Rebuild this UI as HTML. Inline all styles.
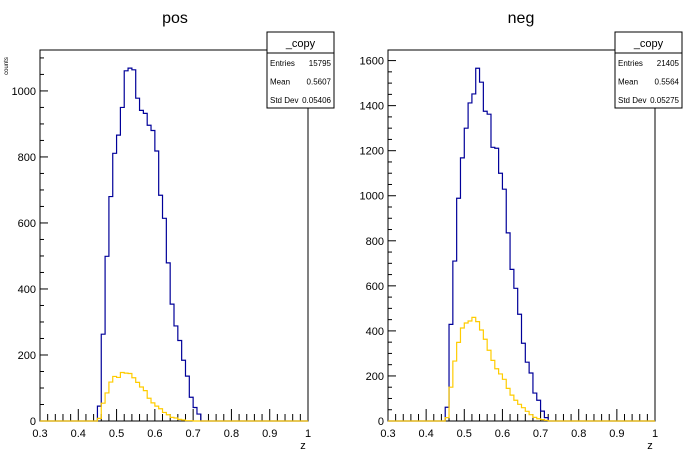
<!DOCTYPE html>
<html><head><meta charset="utf-8"><style>
body{margin:0;background:#fff;}
svg{display:block;font-family:"Liberation Sans",sans-serif;}
</style></head><body>
<svg id="c" width="696" height="472"></svg>
<script>
const binEdges0 = 0.45;
const binWidth = 0.01;
const posBlue = [45,263,499,680,811,866,950,1061,1069,1064,978,941,932,896,880,818,684,614,479,354,288,244,184,136,72,41,21];
const posYellow = [8,54,85,118,135,132,147,145,144,131,117,103,92,69,55,45,37,26,19,11,9,5,3,1,1,0,0];
const negBlue = [61,429,710,989,1168,1300,1412,1452,1566,1504,1375,1362,1215,1211,1100,1029,835,673,589,474,345,261,213,124,92,44,15];
const negYellow = [15,150,266,349,413,435,444,460,441,404,363,314,269,232,209,185,145,115,92,74,59,43,28,16,10,6,3];
const xTicks = [0.3,0.4,0.5,0.6,0.7,0.8,0.9,1];
const xTickLabels = ["0.3","0.4","0.5","0.6","0.7","0.8","0.9","1"];
const posYTicks = [0,200,400,600,800,1000];
const negYTicks = [0,200,400,600,800,1000,1200,1400,1600];

const NS="http://www.w3.org/2000/svg";
const svg=document.getElementById('c');
function mk(tag,attrs,parent){const e=document.createElementNS(NS,tag);for(const k in attrs)e.setAttribute(k,attrs[k]);(parent||svg).appendChild(e);return e;}

function pad(cfg){
  const g=mk('g',{});
  
  
  const X=v=>cfg.x0+(v-0.3)/0.7*(cfg.x1-cfg.x0);
  const Y=v=>cfg.yb-(v/cfg.ymax)*(cfg.yb-cfg.yt);
  // frame
  const fr=mk('rect',{x:cfg.x0,y:cfg.yt,width:cfg.x1-cfg.x0,height:cfg.yb-cfg.yt,fill:'none',stroke:'#000','stroke-width':1},g);
  
  
  // x ticks
  for(let i=0;i<=35;i++){
    const v=0.3+i*0.02; const x=X(v); const major=(i%5===0);
    mk('line',{x1:x,x2:x,y1:cfg.yb,y2:cfg.yb-(major?12:7),stroke:'#000','stroke-width':1},g);
  }
  xTicks.forEach((v,i)=>{
    const t=mk('text',{x:X(v),y:cfg.yb+16,'font-size':11,'text-anchor':'middle'},g);
    t.textContent=xTickLabels[i];
    
    
  });
  // y ticks
  for(let v=0;v<=cfg.ymax;v+=50){
    const y=Y(v); const major=(v%200===0);
    mk('line',{x1:cfg.x0,x2:cfg.x0+(major?8:4),y1:y,y2:y,stroke:'#000','stroke-width':1},g);
  }
  cfg.yTicks.forEach(v=>{
    const t=mk('text',{x:cfg.x0-4,y:Y(v)+4,'font-size':11,'text-anchor':'end'},g);
    t.textContent=String(v);
    
    
  });
  // histograms
  function hist(vals,color,nm){
    let d='M'+X(0.3)+','+Y(0);
    d+=' L'+X(binEdges0)+','+Y(0);
    vals.forEach((v,i)=>{const a=binEdges0+i*binWidth;d+=' L'+X(a)+','+Y(v)+' L'+X(a+binWidth)+','+Y(v);});
    d+=' L'+X(binEdges0+vals.length*binWidth)+','+Y(0)+' L'+X(1)+','+Y(0);
    const p=mk('path',{d:d,fill:'none',stroke:color,'stroke-width':1.2},g);
    
    
  }
  hist(cfg.blue,'#000099',cfg.name+'-histogram');
  hist(cfg.yellow,'#ffcc00',cfg.name+'-subset-histogram');
  // title
  const tt=mk('text',{x:cfg.tx,y:23,'font-size':16,'text-anchor':'middle'},g);
  tt.textContent=cfg.name;
  
  
  const xt=mk('text',{x:cfg.x1-5,y:449,'font-size':11,'text-anchor':'middle'},g);
  xt.textContent='z';
  
  
  // stats box
  const sb=mk('g',{},g);
  
  
  const bx=cfg.sx, bw=67;
  mk('rect',{x:bx,y:32,width:bw,height:76,fill:'#fff',stroke:'#000','stroke-width':1},sb);
  mk('line',{x1:bx,x2:bx+bw,y1:53,y2:53,stroke:'#000'},sb);
  const st=mk('text',{x:bx+bw/2,y:47,'font-size':11,'text-anchor':'middle'},sb);st.textContent='_copy';
  const rows=[['Entries',cfg.entries],['Mean',cfg.mean],['Std Dev',cfg.std]];
  rows.forEach((r,i)=>{
    const y=66+i*18.5;
    const a=mk('text',{x:bx+3,y:y,'font-size':8},sb);a.textContent=r[0];
    const b=mk('text',{x:bx+bw-3,y:y,'font-size':8,'text-anchor':'end'},sb);b.textContent=r[1];
  });
}
pad({name:'pos',x0:40,x1:308,yt:50,yb:421,ymax:1124,yTicks:posYTicks,blue:posBlue,yellow:posYellow,tx:175,sx:267,entries:'15795',mean:'0.5607',std:'0.05406'});
pad({name:'neg',x0:388,x1:655,yt:50,yb:421,ymax:1647,yTicks:negYTicks,blue:negBlue,yellow:negYellow,tx:521,sx:615,entries:'21405',mean:'0.5564',std:'0.05275'});
const yt=mk('text',{x:0,y:0,'font-size':6,transform:'translate(8,66) rotate(-90)','text-anchor':'middle'});
yt.textContent='counts';


</script>
</body></html>
